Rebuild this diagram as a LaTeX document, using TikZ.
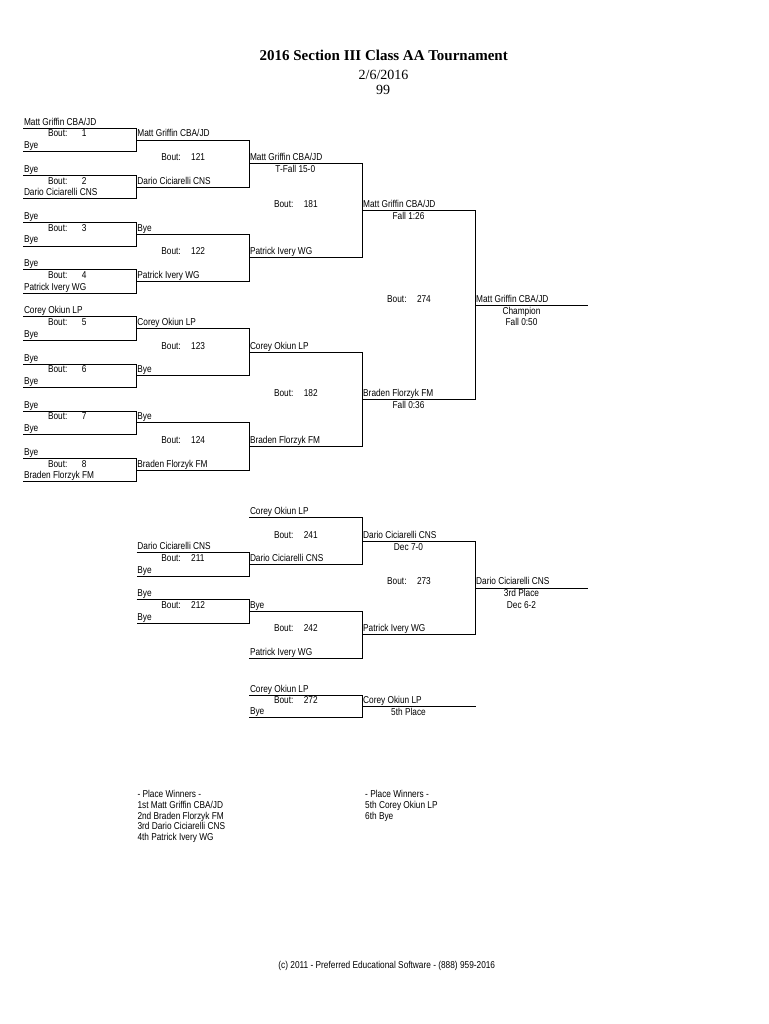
\documentclass[tikz,border=0pt]{standalone}
\usepackage{fontspec}
\setmainfont{Liberation Serif}
\newfontfamily\brsans[FakeStretch=0.83]{Liberation Sans}
\newcounter{nn}
\tikzset{
  bline/.style={line width=0.9pt, draw=black},
  nm/.style={anchor=base west, inner sep=0pt, font=\brsans\fontsize{10}{12}\selectfont,
             /utils/exec={\stepcounter{nn}}, name=t\arabic{nn}},
  rs/.style={nm, anchor=base},
  ttl/.style={anchor=base, inner sep=0pt, /utils/exec={\stepcounter{nn}}, name=t\arabic{nn}}
}
% #1 xl, #2 xr, #3 top, #4 bottom, #5 top name, #6 bottom name, #7 bout number, #8 number offset
\newcommand{\bmatch}[8]{%
  \draw[bline] (#1,#3) -- (#2,#3) -- (#2,#4) -- (#1,#4);
  \node[nm] at (#1+0.5,#3-3) {#5};
  \node[nm] at (#1+0.5,#4-3) {#6};
  \node[nm] at ({#1+24.5},{(#3+#4)/2-3}) {Bout:};
  \node[nm] at ({#1+#8},{(#3+#4)/2-3}) {#7};
}
% result text: #1 column x, #2 line y, #3 text, #4 line offset
\newcommand{\bres}[4]{\node[rs] at (#1+46,#2+#4) {#3};}
\begin{document}
\begin{tikzpicture}[x=1pt,y=-1pt]
\useasboundingbox[fill=white] (0,0) rectangle (768,1024);
\def\XA{23.3}\def\XB{136.7}\def\XC{249.3}\def\XD{362.5}\def\XE{475.5}\def\XF{588.3}

% title
\node[ttl] at (383.7,61) {\fontsize{15}{18}\selectfont\bfseries 2016 Section III Class AA Tournament};
\node[ttl] at (383.5,80) {\fontsize{14}{16}\selectfont 2/6/2016};
\node[ttl] at (383,94.5) {\fontsize{14}{16}\selectfont 99};

% first round
\bmatch{\XA}{\XB}{128.3}{151.7}{Matt Griffin CBA/JD}{Bye}{1}{58.4}
\bmatch{\XA}{\XB}{175.45}{198.85}{Bye}{Dario Ciciarelli CNS}{2}{58.4}
\bmatch{\XA}{\XB}{222.6}{246.0}{Bye}{Bye}{3}{58.4}
\bmatch{\XA}{\XB}{269.75}{293.15}{Bye}{Patrick Ivery WG}{4}{58.4}
\bmatch{\XA}{\XB}{316.9}{340.3}{Corey Okiun LP}{Bye}{5}{58.4}
\bmatch{\XA}{\XB}{364.05}{387.45}{Bye}{Bye}{6}{58.4}
\bmatch{\XA}{\XB}{411.2}{434.6}{Bye}{Bye}{7}{58.4}
\bmatch{\XA}{\XB}{458.35}{481.75}{Bye}{Braden Florzyk FM}{8}{58.4}

% second round
\bmatch{\XB}{\XC}{140.0}{187.15}{Matt Griffin CBA/JD}{Dario Ciciarelli CNS}{121}{54.3}
\bmatch{\XB}{\XC}{234.3}{281.45}{Bye}{Patrick Ivery WG}{122}{54.3}
\bmatch{\XB}{\XC}{328.6}{375.75}{Corey Okiun LP}{Bye}{123}{54.3}
\bmatch{\XB}{\XC}{422.9}{470.05}{Bye}{Braden Florzyk FM}{124}{54.3}

% third round
\bmatch{\XC}{\XD}{163.575}{257.875}{Matt Griffin CBA/JD}{Patrick Ivery WG}{181}{54.3}
\bres{\XC}{163.575}{T-Fall 15-0}{9}
\bmatch{\XC}{\XD}{352.175}{446.475}{Corey Okiun LP}{Braden Florzyk FM}{182}{54.3}

% final
\bmatch{\XD}{\XE}{210.725}{399.325}{Matt Griffin CBA/JD}{Braden Florzyk FM}{274}{54.3}
\bres{\XD}{210.725}{Fall 1:26}{9}
\bres{\XD}{399.325}{Fall 0:36}{9}
\draw[bline] (\XE,305.025) -- (\XF,305.025);
\node[nm] at (\XE+0.5,305.025-3) {Matt Griffin CBA/JD};
\bres{\XE}{305.025}{Champion}{9}
\bres{\XE}{305.025}{Fall 0:50}{20.5}

% consolation
\bmatch{\XB}{\XC}{552.7}{576.1}{Dario Ciciarelli CNS}{Bye}{211}{54.3}
\bmatch{\XB}{\XC}{599.85}{623.25}{Bye}{Bye}{212}{54.3}
\bmatch{\XC}{\XD}{517.7}{564.4}{Corey Okiun LP}{Dario Ciciarelli CNS}{241}{54.3}
\bmatch{\XC}{\XD}{611.55}{658.3}{Bye}{Patrick Ivery WG}{242}{54.3}
\bmatch{\XD}{\XE}{541.05}{634.9}{Dario Ciciarelli CNS}{Patrick Ivery WG}{273}{54.3}
\bres{\XD}{541.05}{Dec 7-0}{9}
\draw[bline] (\XE,587.975) -- (\XF,587.975);
\node[nm] at (\XE+0.5,587.975-3) {Dario Ciciarelli CNS};
\bres{\XE}{587.975}{3rd Place}{9}
\bres{\XE}{587.975}{Dec 6-2}{20.5}

% fifth place
\bmatch{\XC}{\XD}{695.0}{717.7}{Corey Okiun LP}{Bye}{272}{54.3}
\draw[bline] (\XD,706.35) -- (\XE,706.35);
\node[nm] at (\XD+0.5,706.35-3) {Corey Okiun LP};
\bres{\XD}{706.35}{5th Place}{9}

% place winners
\node[nm] at (137.3,797.3) {- Place Winners -};
\node[nm] at (137.3,808.15) {1st Matt Griffin CBA/JD};
\node[nm] at (137.3,819.0) {2nd Braden Florzyk FM};
\node[nm] at (137.3,829.85) {3rd Dario Ciciarelli CNS};
\node[nm] at (137.3,840.7) {4th Patrick Ivery WG};
\node[nm] at (365,797.3) {- Place Winners -};
\node[nm] at (365,808.15) {5th Corey Okiun LP};
\node[nm] at (365,819.0) {6th Bye};

% footer
\node[rs] at (386.8,968.5) {(c) 2011 - Preferred Educational Software - (888) 959-2016};
\end{tikzpicture}
\end{document}
